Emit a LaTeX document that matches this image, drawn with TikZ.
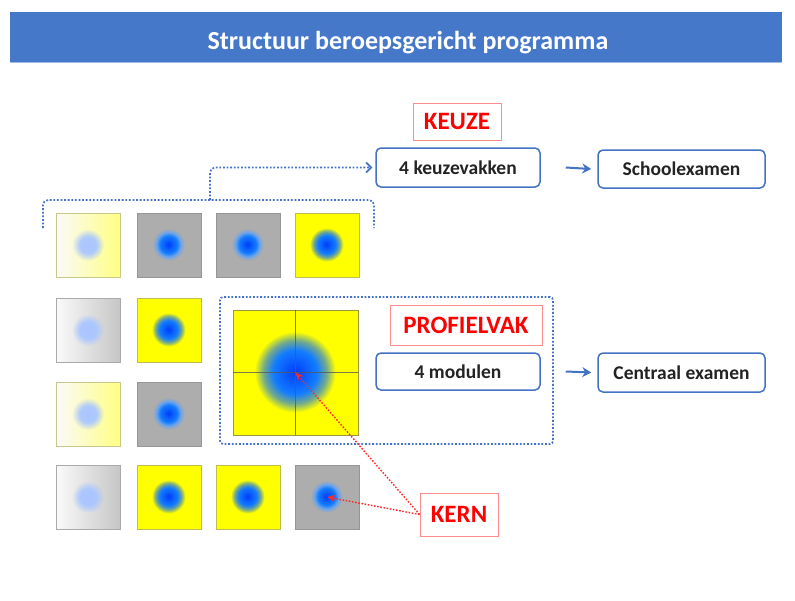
\documentclass[tikz,border=0pt]{standalone}
\usepackage{fontspec}
\setmainfont{Carlito}
\usetikzlibrary{arrows.meta,fadings}
\definecolor{titleblue}{RGB}{70,120,202}
\definecolor{titleline}{RGB}{160,185,230}
\definecolor{boxblue}{RGB}{68,114,196}
\definecolor{tilegray}{RGB}{173,173,173}
\definecolor{tileyellow}{RGB}{255,255,0}
\definecolor{paleyellow}{RGB}{255,255,130}
\definecolor{palegray}{RGB}{198,198,198}
\definecolor{offwhite}{RGB}{250,250,250}
\definecolor{yborder}{RGB}{190,190,80}
\definecolor{gborder}{RGB}{150,150,150}
\definecolor{ygborder}{RGB}{200,200,140}
\definecolor{ggborder}{RGB}{170,170,170}
\definecolor{coreblue}{RGB}{0,60,250}
\definecolor{midblue}{RGB}{20,125,255}
\definecolor{grayhalo}{RGB}{110,165,235}
\definecolor{greenhalo}{RGB}{115,170,140}
\definecolor{fadeblue}{RGB}{170,198,255}
\definecolor{labelred}{RGB}{255,0,0}
\definecolor{labelborder}{RGB}{255,140,140}
\definecolor{arrowred}{RGB}{255,40,40}
\definecolor{textdark}{RGB}{35,35,35}
\definecolor{fadeopaque}{RGB}{255,255,255}
\definecolor{fadenear}{RGB}{240,240,240}
\definecolor{fadeclear}{RGB}{0,0,0}
\pgfdeclareradialshading{softdiscshade}{\pgfpointorigin}{color(0bp)=(fadeopaque); color(13bp)=(fadenear); color(25bp)=(fadeclear); color(50bp)=(fadeclear)}
\pgfdeclarefading{softdisc}{\pgfuseshading{softdiscshade}}
% soft radial dot drawn as concentric discs: #1 centre, #2 radius, #3 background, #4 halo colour
\newcommand\softdot[4]{%
  \foreach \i in {0,...,39}{%
    \pgfmathsetmacro\ff{1-\i/40}%
    \ifdim\ff pt>0.78pt
      \pgfmathtruncatemacro\pp{(\ff-0.78)/0.22*100}%
      \colorlet{dotcol}{#3!\pp!#4}%
    \else\ifdim\ff pt>0.55pt
      \pgfmathtruncatemacro\pp{(\ff-0.55)/0.23*100}%
      \colorlet{dotcol}{#4!\pp!midblue}%
    \else
      \pgfmathtruncatemacro\pp{\ff/0.55*100}%
      \colorlet{dotcol}{midblue!\pp!coreblue}%
    \fi\fi
    \pgfmathsetmacro\rr{#2*\ff}%
    \fill[dotcol] (#1) circle (\rr pt);
  }}
\begin{document}
\begin{tikzpicture}[x=1pt,y=-1pt,
  tile/.style={minimum size=64pt, inner sep=0pt, line width=0.7pt},
  ytile/.style={tile, fill=tileyellow, draw=yborder},
  gtile/.style={tile, fill=tilegray, draw=gborder},
  ygtile/.style={tile, left color=offwhite, right color=paleyellow, draw=ygborder},
  ggtile/.style={tile, left color=offwhite, right color=palegray, draw=ggborder},
  bluebox/.style={draw=boxblue, line width=1.5pt, rounded corners=5pt, fill=white, text=textdark, inner sep=0pt, font=\bfseries\fontsize{19.5}{23}\selectfont},
  redlabel/.style={draw=labelborder, line width=0.8pt, text=labelred, inner sep=0pt, font=\bfseries\fontsize{25}{30}\selectfont},
  dotline/.style={draw=boxblue, line width=1.7pt, dash pattern=on 1.8pt off 1.8pt},
  redarrow/.style={draw=arrowred, line width=1.4pt, dash pattern=on 1.6pt off 1.6pt, -{Stealth[length=8pt,width=7pt,open]}},
  bluearrow/.style={draw=boxblue, line width=2pt, -{Stealth[length=9pt,width=10pt]}}
]
\useasboundingbox (0,0) rectangle (795,600);
% title
\node[fill=titleblue, minimum width=772pt, minimum height=50pt, inner sep=0pt, anchor=north west] (bar) at (10,12) {};
\draw[titleline, line width=1.5pt] (bar.south west) -- (bar.south east);
\node[text=white, font=\bfseries\fontsize{26}{30}\selectfont] (title) at (408,43) {Structuur beroepsgericht programma};
% tiles
\node[ygtile] (t11) at (88,245) {};
\node[gtile]  (t12) at (169,245) {};
\node[gtile]  (t13) at (248,245) {};
\node[ytile]  (t14) at (327,245) {};
\node[ggtile] (t21) at (88,330) {};
\node[ytile]  (t22) at (169,330) {};
\node[ygtile] (t31) at (88,414) {};
\node[gtile]  (t32) at (169,414) {};
\node[ggtile] (t41) at (88,497) {};
\node[ytile]  (t42) at (169,497) {};
\node[ytile]  (t43) at (248,497) {};
\node[gtile]  (t44) at (327,497) {};
% faded dots
\foreach \t in {t11,t21,t31,t41}
  \fill[fadeblue, path fading=softdisc] (\t.center) circle (16pt);
% blue dots
\foreach \t in {t12,t13,t32,t44}
  \softdot{\t.center}{16}{tilegray}{grayhalo};
\foreach \t in {t14,t22,t42,t43}
  \softdot{\t.center}{17}{tileyellow}{greenhalo};
% profielvak frame
\node[dotline, minimum width=333pt, minimum height=147pt, rounded corners=3pt, inner sep=0pt] (frame) at (386.5,370.5) {};
% big tile
\node[tile, minimum size=125pt, fill=tileyellow, draw=yborder!80!black] (big) at (295.5,372.5) {};
\softdot{big.center}{41}{tileyellow}{greenhalo}
\draw[black!65, line width=0.8pt, opacity=0.8] (big.north) -- (big.south);
\draw[black!65, line width=0.8pt, opacity=0.8] (big.west) -- (big.east);
% labels and boxes
\node[redlabel, minimum width=88pt, minimum height=37pt] (keuzelbl) at (457,121.5) {KEUZE};
\node[bluebox, minimum width=164pt, minimum height=39pt] (keuze) at (458,167.5) {4 keuzevakken};
\node[bluebox, minimum width=167pt, minimum height=38pt] (school) at (681.5,169) {Schoolexamen};
\node[redlabel, minimum width=152pt, minimum height=40pt] (proflbl) at (466,325) {PROFIELVAK};
\node[bluebox, minimum width=164pt, minimum height=37pt] (modulen) at (458,371.5) {4 modulen};
\node[bluebox, minimum width=167pt, minimum height=39pt] (centraal) at (681.5,372.5) {Centraal examen};
\node[redlabel, minimum width=78pt, minimum height=43pt] (kern) at (459,514.5) {KERN};
% arrows
\draw[bluearrow] ([xshift=25pt]keuze.east) -- ([xshift=-6pt]school.west);
\draw[bluearrow] ([xshift=25pt]modulen.east) -- ([xshift=-6pt]centraal.west);
% bracket
\coordinate (bl) at (43,228);
\coordinate (br) at (374,228);
\coordinate (bm) at (210,200);
\draw[dotline, rounded corners=5pt] (bl) |- (bm) -| (br);
\draw[dotline, rounded corners=5pt, -{Straight Barb[length=5pt,width=10pt]}, shorten >=3pt] (bm) |- (keuze.west);
% kern arrows
\draw[redarrow] (kern.west) -- (t44.center);
\draw[redarrow] (kern.west) -- (big.center);
\end{tikzpicture}
\end{document}
